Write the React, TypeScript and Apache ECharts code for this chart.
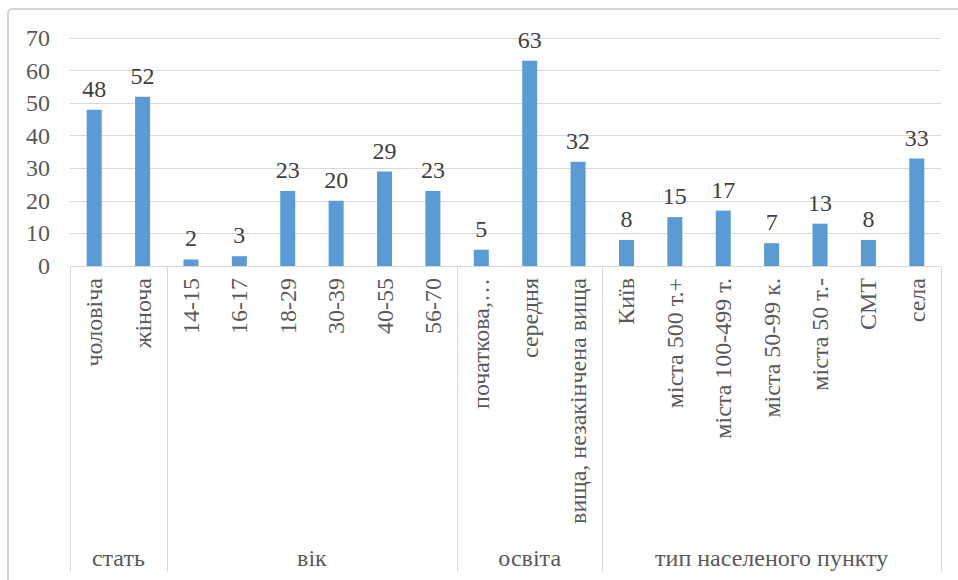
import React, { useEffect, useRef } from "react";
import * as echarts from "echarts";

// Respondent groups and their sub-categories
const groups = ["стать", "вік", "освіта", "тип населеного пункту"];
const groupSizes = [2, 6, 3, 7];

const categories = [
  "чоловіча",
  "жіноча",
  "14-15",
  "16-17",
  "18-29",
  "30-39",
  "40-55",
  "56-70",
  "початкова,…",
  "середня",
  "вища, незакінчена вища",
  "Київ",
  "міста 500 т.+",
  "міста 100-499 т.",
  "міста 50-99 к.",
  "міста 50 т.-",
  "СМТ",
  "села",
];

const values = [48, 52, 2, 3, 23, 20, 29, 23, 5, 63, 32, 8, 15, 17, 7, 13, 8, 33];

const yTicks = { min: 0, max: 70, interval: 10 };

const FONT = "Liberation Serif";
const FONT_SIZE = 24;
const LINE = "#d9d9d9";

export default function App() {
  const ref = useRef<HTMLDivElement>(null);

  useEffect(() => {
    if (!ref.current) return;
    const chart = echarts.init(ref.current, undefined, { renderer: "svg" });

    const gridTop = 38;
    const gridBottom = 314;
    const height = 580;

    chart.setOption({
      animation: false,
      backgroundColor: "#ffffff",
      textStyle: { fontFamily: FONT },
      grid: { left: 70, right: 17, top: gridTop, bottom: gridBottom, containLabel: false },
      xAxis: {
        type: "category",
        data: categories,
        axisLine: { show: true, lineStyle: { color: LINE, width: 1 } },
        axisTick: { show: false },
        axisLabel: {
          rotate: 90,
          interval: 0,
          margin: 12,
          fontFamily: FONT,
          fontSize: FONT_SIZE,
          color: "#595959",
        },
        splitLine: { show: false },
      },
      yAxis: {
        type: "value",
        min: yTicks.min,
        max: yTicks.max,
        interval: yTicks.interval,
        axisLine: { show: false },
        axisTick: { show: false },
        axisLabel: { fontFamily: FONT, fontSize: FONT_SIZE, color: "#595959", margin: 20 },
        splitLine: { lineStyle: { color: LINE, width: 1 } },
      },
      series: [
        {
          type: "bar",
          data: values,
          barWidth: "31%",
          itemStyle: { color: "#5b9bd5" },
          label: {
            show: true,
            position: "top",
            distance: 9,
            fontFamily: FONT,
            fontSize: FONT_SIZE,
            color: "#404040",
          },
        },
      ],
    });

    // Group separators and group names below the category labels
    const c0 = chart.convertToPixel({ xAxisIndex: 0 }, 0) as number;
    const c1 = chart.convertToPixel({ xAxisIndex: 0 }, 1) as number;
    const step = c1 - c0;
    const axisY = chart.convertToPixel({ yAxisIndex: 0 }, 0) as number;
    const startX = c0 - step / 2;
    const sepBottom = height - 8;

    const elements: any[] = [];
    let idx = 0;
    const bounds: number[] = [startX];
    groupSizes.forEach((n, gi) => {
      const x0 = startX + idx * step;
      const x1 = startX + (idx + n) * step;
      elements.push({
        type: "text",
        x: (x0 + x1) / 2,
        y: 558,
        style: {
          text: groups[gi],
          fontFamily: FONT,
          fontSize: FONT_SIZE,
          fill: "#595959",
          align: "center",
          verticalAlign: "middle",
        },
      });
      idx += n;
      bounds.push(x1);
    });
    bounds.forEach((x) => {
      elements.push({
        type: "line",
        shape: { x1: Math.round(x) + 0.5, y1: axisY, x2: Math.round(x) + 0.5, y2: sepBottom },
        style: { stroke: LINE, lineWidth: 1 },
      });
    });
    // Chart frame
    elements.push({
      type: "rect",
      shape: { x: 8, y: 9, width: 1000, height: 700, r: 4 },
      style: { fill: "none", stroke: "#d6d6d6", lineWidth: 2 },
      z: 10,
    });

    chart.setOption({ graphic: elements });

    return () => chart.dispose();
  }, []);

  return (
    <div
      ref={ref}
      style={{ position: "fixed", left: 0, top: 0, width: 958, height: 580 }}
    />
  );
}
